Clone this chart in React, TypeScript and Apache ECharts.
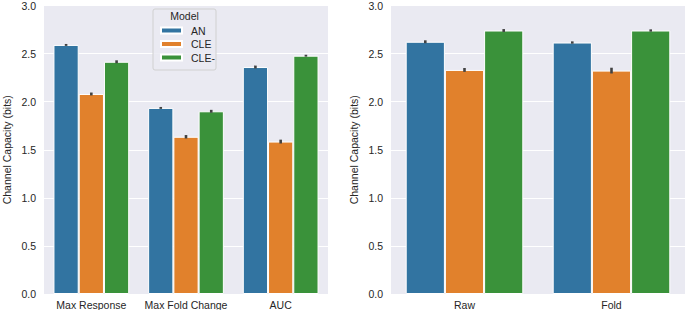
import React, { useEffect, useRef } from "react";
import * as echarts from "echarts";

const modelNames = ["AN", "CLE", "CLE-"];
const modelColors = ["#3274A1", "#E1812C", "#3A923A"];

const leftCategories = ["Max Response", "Max Fold Change", "AUC"];
const leftAN = [2.59, 1.935, 2.36];
const leftCLE = [2.08, 1.635, 1.585];
const leftCLEminus = [2.415, 1.9, 2.478];
const leftANErr = [0.01, 0.01, 0.015];
const leftCLEErr = [0.015, 0.018, 0.02];
const leftCLEminusErr = [0.015, 0.015, 0.01];

const rightCategories = ["Raw", "Fold"];
const rightAN = [2.623, 2.615];
const rightCLE = [2.33, 2.323];
const rightCLEminus = [2.74, 2.74];
const rightANErr = [0.015, 0.012];
const rightCLEErr = [0.02, 0.03];
const rightCLEminusErr = [0.015, 0.012];

const yTicks = { min: 0, max: 3, interval: 0.5 };
const yAxisName = "Channel Capacity (bits)";

const FONT = "Liberation Sans, Arial, sans-serif";
const TEXT = "#262626";

export default function App() {
  const ref = useRef<HTMLDivElement>(null);
  useEffect(() => {
    if (!ref.current) return;
    const chart = echarts.init(ref.current, undefined, { renderer: "svg" });

    const leftVals = [leftAN, leftCLE, leftCLEminus];
    const leftErrs = [leftANErr, leftCLEErr, leftCLEminusErr];
    const rightVals = [rightAN, rightCLE, rightCLEminus];
    const rightErrs = [rightANErr, rightCLEErr, rightCLEminusErr];

    const makeBars = (vals: number[][], axisIdx: number) =>
      vals.map((v, k) => ({
        type: "bar",
        name: modelNames[k],
        xAxisIndex: axisIdx,
        yAxisIndex: axisIdx,
        data: v,
        barGap: "0%",
        barCategoryGap: "20%",
        itemStyle: { color: modelColors[k], borderColor: "#ffffff", borderWidth: 1 },
        z: 2,
      }));

    const makeErr = (vals: number[][], errs: number[][], axisIdx: number) =>
      vals.map((v, k) => ({
        type: "custom",
        name: modelNames[k] + " err",
        xAxisIndex: axisIdx,
        yAxisIndex: axisIdx,
        encode: { x: 0, y: 1 },
        z: 5,
        data: v.map((val, i) => [i, val, errs[k][i]]),
        renderItem: (params: any, api: any) => {
          const cat = api.value(0);
          const val = api.value(1);
          const e = api.value(2);
          const base = api.coord([cat, val]);
          const band = api.size([1, 0])[0];
          const bw = (band * 0.8) / 3;
          const x = base[0] + (k - 1) * bw;
          const top = api.coord([cat, val + e])[1];
          const bot = api.coord([cat, val - e])[1];
          return {
            type: "line",
            shape: { x1: x, y1: top, x2: x, y2: bot },
            style: { stroke: "#424242", lineWidth: 2.6, lineCap: "butt" },
          };
        },
      }));

    const xAxisBase = (cats: string[], gridIndex: number) => ({
      type: "category",
      gridIndex,
      data: cats,
      axisLine: { show: false },
      axisTick: { show: false },
      axisLabel: { color: TEXT, fontSize: 10.5, fontFamily: FONT, margin: 5, interval: 0 },
      splitLine: { show: false },
    });
    const yAxisBase = (gridIndex: number) => ({
      type: "value",
      gridIndex,
      min: yTicks.min,
      max: yTicks.max,
      interval: yTicks.interval,
      name: yAxisName,
      nameLocation: "middle",
      nameGap: 32,
      nameTextStyle: { color: TEXT, fontSize: 10.5, fontFamily: FONT },
      axisLine: { show: false },
      axisTick: { show: false },
      axisLabel: {
        color: TEXT,
        fontSize: 10.5,
        fontFamily: FONT,
        margin: 8,
        formatter: (v: number) => v.toFixed(1),
      },
      splitLine: { show: true, lineStyle: { color: "#ffffff", width: 1 } },
    });

    chart.setOption({
      animation: false,
      backgroundColor: "#ffffff",
      grid: [
        { left: 38, top: 4, width: 290, height: 290, backgroundColor: "#EAEAF2", show: true, borderWidth: 0 },
        { left: 391, top: 4, width: 294, height: 290, backgroundColor: "#EAEAF2", show: true, borderWidth: 0 },
      ],
      xAxis: [xAxisBase(leftCategories, 0), xAxisBase(rightCategories, 1)],
      yAxis: [yAxisBase(0), yAxisBase(1)],
      legend: {
        data: modelNames,
        orient: "vertical",
        left: 158,
        top: 23,
        padding: 2,
        itemWidth: 21,
        itemHeight: 6,
        itemGap: 2.5,
        icon: "rect",
        z: 30,
        textStyle: { color: TEXT, fontSize: 10.5, fontFamily: FONT, padding: [0, 0, 0, 4] },
        selectedMode: false,
      },
      graphic: [
        {
          type: "rect",
          shape: { x: 153, y: 9, width: 63, height: 61, r: 2 },
          style: { fill: "rgba(234,234,242,0.85)", stroke: "#d0d0d0", lineWidth: 1 },
          z: 10,
        },
        {
          type: "text",
          x: 184.5,
          y: 16,
          style: {
            text: "Model",
            fill: TEXT,
            fontSize: 10.5,
            fontFamily: FONT,
            align: "center",
            verticalAlign: "middle",
          },
          z: 11,
        },
      ],
      series: [
        ...makeBars(leftVals, 0),
        ...makeBars(rightVals, 1),
        ...makeErr(leftVals, leftErrs, 0),
        ...makeErr(rightVals, rightErrs, 1),
      ],
    });
    return () => chart.dispose();
  }, []);
  return (
    <div
      ref={ref}
      style={{ position: "fixed", left: 0, top: 0, width: 685, height: 310 }}
    />
  );
}
